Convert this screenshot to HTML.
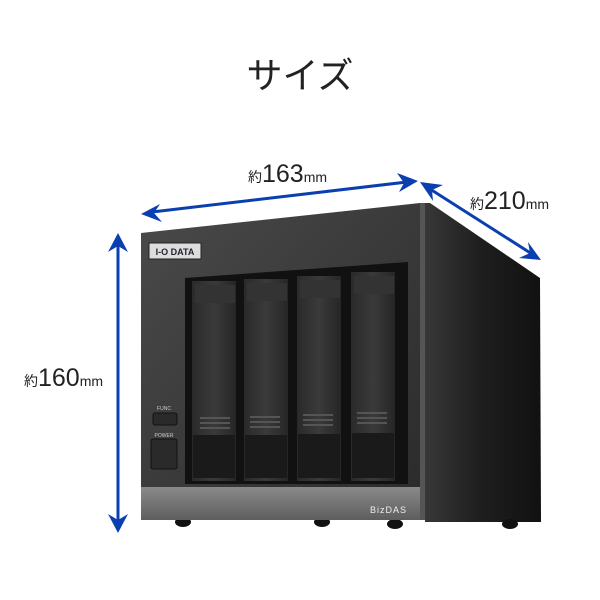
<!DOCTYPE html>
<html><head><meta charset="utf-8"><style>
html,body{margin:0;padding:0;background:#fff;width:600px;height:600px;overflow:hidden}
svg{display:block}
</style></head><body>
<svg width="600" height="600" viewBox="0 0 600 600" xmlns="http://www.w3.org/2000/svg">
<defs>
<linearGradient id="front" x1="0" y1="0" x2="1" y2="1">
<stop offset="0" stop-color="#4a4a4a"/><stop offset="0.5" stop-color="#3a3a3a"/><stop offset="1" stop-color="#2a2a2a"/>
</linearGradient>
<linearGradient id="side" x1="0" y1="0" x2="1" y2="0">
<stop offset="0" stop-color="#3a3a3a"/><stop offset="0.5" stop-color="#1e1e1e"/><stop offset="1" stop-color="#111"/>
</linearGradient>
<linearGradient id="bay" x1="0" y1="0" x2="1" y2="0">
<stop offset="0" stop-color="#2a2a2a"/><stop offset="0.5" stop-color="#3a3a3a"/><stop offset="1" stop-color="#262626"/>
</linearGradient>
<linearGradient id="strip" x1="0" y1="0" x2="0" y2="1">
<stop offset="0" stop-color="#8a8a8a"/><stop offset="1" stop-color="#5e5e5e"/>
</linearGradient>
</defs>
<text x="300" y="88" text-anchor="middle" font-family="'Noto Sans CJK JP',sans-serif" font-size="36" fill="#222">サイズ</text>

<!-- side -->
<polygon points="420,203 430,203 540,278 541,522 425,522" fill="url(#side)"/>
<!-- feet -->
<ellipse cx="183" cy="522" rx="8" ry="5" fill="#111"/>
<ellipse cx="322" cy="522" rx="8" ry="5" fill="#111"/>
<ellipse cx="395" cy="524" rx="8" ry="5" fill="#111"/>
<ellipse cx="510" cy="524" rx="8" ry="5" fill="#111"/>
<!-- front -->
<polygon points="141,233 420,203 424,208 425,520 141,520" fill="url(#front)"/>
<rect x="141" y="487" width="284" height="33" fill="url(#strip)"/>
<rect x="420" y="203" width="5" height="317" fill="#555"/>
<!-- logo -->
<rect x="149" y="243" width="52" height="16" fill="#ddd" stroke="#222"/>
<text x="175" y="255" text-anchor="middle" font-family="'Liberation Sans',sans-serif" font-weight="bold" font-size="9" fill="#223">I-O DATA</text>
<!-- recess -->
<polygon points="185,278 408,262 408,484 185,484" fill="#111"/>
<g>
<rect x="192" y="281" width="44" height="200" fill="url(#bay)"/>
<rect x="244" y="279" width="44" height="202" fill="url(#bay)"/>
<rect x="297" y="276" width="44" height="205" fill="url(#bay)"/>
<rect x="351" y="272" width="44" height="209" fill="url(#bay)"/>
</g>
<g fill="#1a1a1a">
<rect x="193" y="435" width="42" height="43"/><rect x="245" y="435" width="42" height="43"/>
<rect x="298" y="434" width="42" height="44"/><rect x="352" y="433" width="42" height="45"/>
</g>
<g fill="#555">
<rect x="200" y="417" width="30" height="2"/><rect x="200" y="422" width="30" height="2"/><rect x="200" y="427" width="30" height="2"/>
<rect x="250" y="416" width="30" height="2"/><rect x="250" y="421" width="30" height="2"/><rect x="250" y="426" width="30" height="2"/>
<rect x="303" y="414" width="30" height="2"/><rect x="303" y="419" width="30" height="2"/><rect x="303" y="424" width="30" height="2"/>
<rect x="357" y="412" width="30" height="2"/><rect x="357" y="417" width="30" height="2"/><rect x="357" y="422" width="30" height="2"/>
</g>
<g fill="#333">
<rect x="195" y="285" width="40" height="18"/><rect x="247" y="283" width="40" height="18"/>
<rect x="300" y="280" width="40" height="18"/><rect x="354" y="276" width="40" height="18"/>
</g>
<!-- buttons -->
<rect x="153" y="413" width="24" height="12" rx="2" fill="#2a2a2a" stroke="#111"/>
<rect x="151" y="439" width="26" height="30" rx="2" fill="#2a2a2a" stroke="#111"/>
<text x="164" y="410" text-anchor="middle" font-family="'Liberation Sans',sans-serif" font-size="5" fill="#ccc">FUNC</text>
<text x="164" y="437" text-anchor="middle" font-family="'Liberation Sans',sans-serif" font-size="5" fill="#ccc">POWER</text>
<text x="370" y="513" font-family="'Liberation Sans',sans-serif" font-size="9" fill="#eee" letter-spacing="1">BizDAS</text>

<!-- arrows -->
<g stroke="#0b3fb0" stroke-width="3" fill="#0b3fb0">
<line x1="118" y1="245" x2="118" y2="522"/>
<line x1="152" y1="212" x2="407" y2="182"/>
<line x1="430" y1="189" x2="532" y2="254"/>
</g>
<g fill="#0b3fb0">
<polygon points="118,233 108,252 118,246 128,252"/>
<polygon points="118,533 108,514 118,520 128,514"/>
<polygon points="141,214 160,204 154,213 162,222"/>
<polygon points="418,181 397,173 404,183 399,192"/>
<polygon points="420,182 443,185 432,190 433,201"/>
<polygon points="541,260 528,242 530,253 519,258"/>
</g>
<g font-family="'Liberation Sans','Noto Sans CJK JP',sans-serif" fill="#222">
<text x="248" y="182"><tspan font-size="14">約</tspan><tspan font-size="25">163</tspan><tspan font-size="14">mm</tspan></text>
<text x="470" y="209"><tspan font-size="14">約</tspan><tspan font-size="25">210</tspan><tspan font-size="14">mm</tspan></text>
<text x="24" y="386"><tspan font-size="14">約</tspan><tspan font-size="25">160</tspan><tspan font-size="14">mm</tspan></text>
</g>
</svg>
</body></html>
